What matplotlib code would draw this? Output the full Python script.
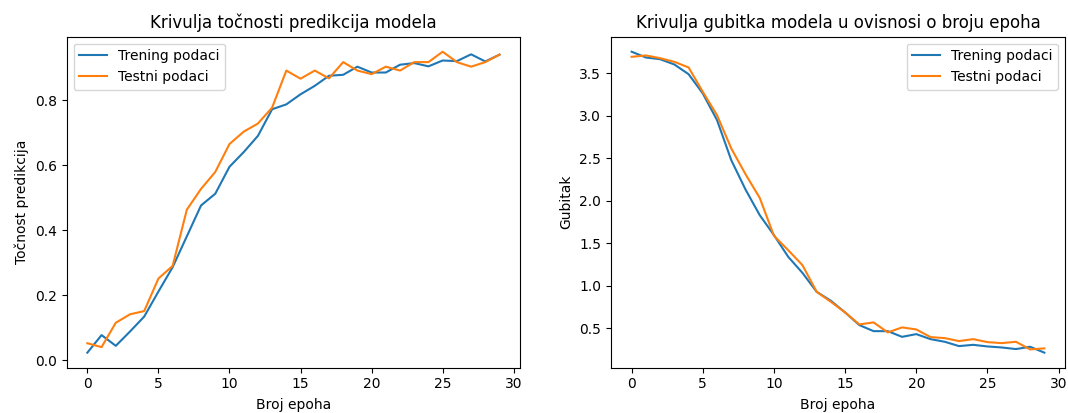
import matplotlib
matplotlib.use("Agg")
import matplotlib.pyplot as plt

epochs = list(range(30))

train_acc = [0.023, 0.077, 0.044, 0.088, 0.134, 0.211, 0.286, 0.381, 0.476, 0.512,
             0.595, 0.640, 0.690, 0.772, 0.787, 0.818, 0.844, 0.875, 0.878, 0.903,
             0.885, 0.885, 0.909, 0.914, 0.904, 0.922, 0.920, 0.941, 0.919, 0.940]
test_acc = [0.052, 0.040, 0.115, 0.141, 0.151, 0.251, 0.290, 0.463, 0.527, 0.579,
            0.665, 0.703, 0.728, 0.777, 0.891, 0.866, 0.891, 0.867, 0.917, 0.891,
            0.880, 0.903, 0.891, 0.917, 0.917, 0.949, 0.917, 0.903, 0.917, 0.940]

train_loss = [3.756, 3.688, 3.668, 3.606, 3.492, 3.265, 2.951, 2.480, 2.135, 1.833,
              1.598, 1.343, 1.154, 0.931, 0.825, 0.688, 0.539, 0.468, 0.468, 0.401,
              0.433, 0.374, 0.343, 0.292, 0.307, 0.288, 0.276, 0.257, 0.284, 0.215]
test_loss = [3.696, 3.712, 3.680, 3.637, 3.571, 3.284, 3.009, 2.618, 2.315, 2.036,
             1.590, 1.421, 1.245, 0.931, 0.813, 0.688, 0.547, 0.571, 0.453, 0.512,
             0.488, 0.398, 0.386, 0.351, 0.374, 0.339, 0.327, 0.343, 0.253, 0.265]

labels = ["Trening podaci", "Testni podaci"]

fig = plt.figure(figsize=(10.68, 4.13), dpi=100)
ax1 = fig.add_axes([0.0625, 0.1097, 0.4245, 0.8015])
ax2 = fig.add_axes([0.5721, 0.1097, 0.4251, 0.8015])

ax1.plot(epochs, train_acc, label=labels[0])
ax1.plot(epochs, test_acc, label=labels[1])
ax1.set_title("Krivulja točnosti predikcija modela")
ax1.set_xlabel("Broj epoha", labelpad=5)
ax1.set_ylabel("Točnost predikcija")
ax1.legend(loc="upper left")

ax2.plot(epochs, train_loss, label=labels[0])
ax2.plot(epochs, test_loss, label=labels[1])
ax2.set_title("Krivulja gubitka modela u ovisnosi o broju epoha")
ax2.set_xlabel("Broj epoha", labelpad=5)
ax2.set_ylabel("Gubitak")
ax2.legend(loc="upper right")

fig.savefig("out.png", dpi=100)
